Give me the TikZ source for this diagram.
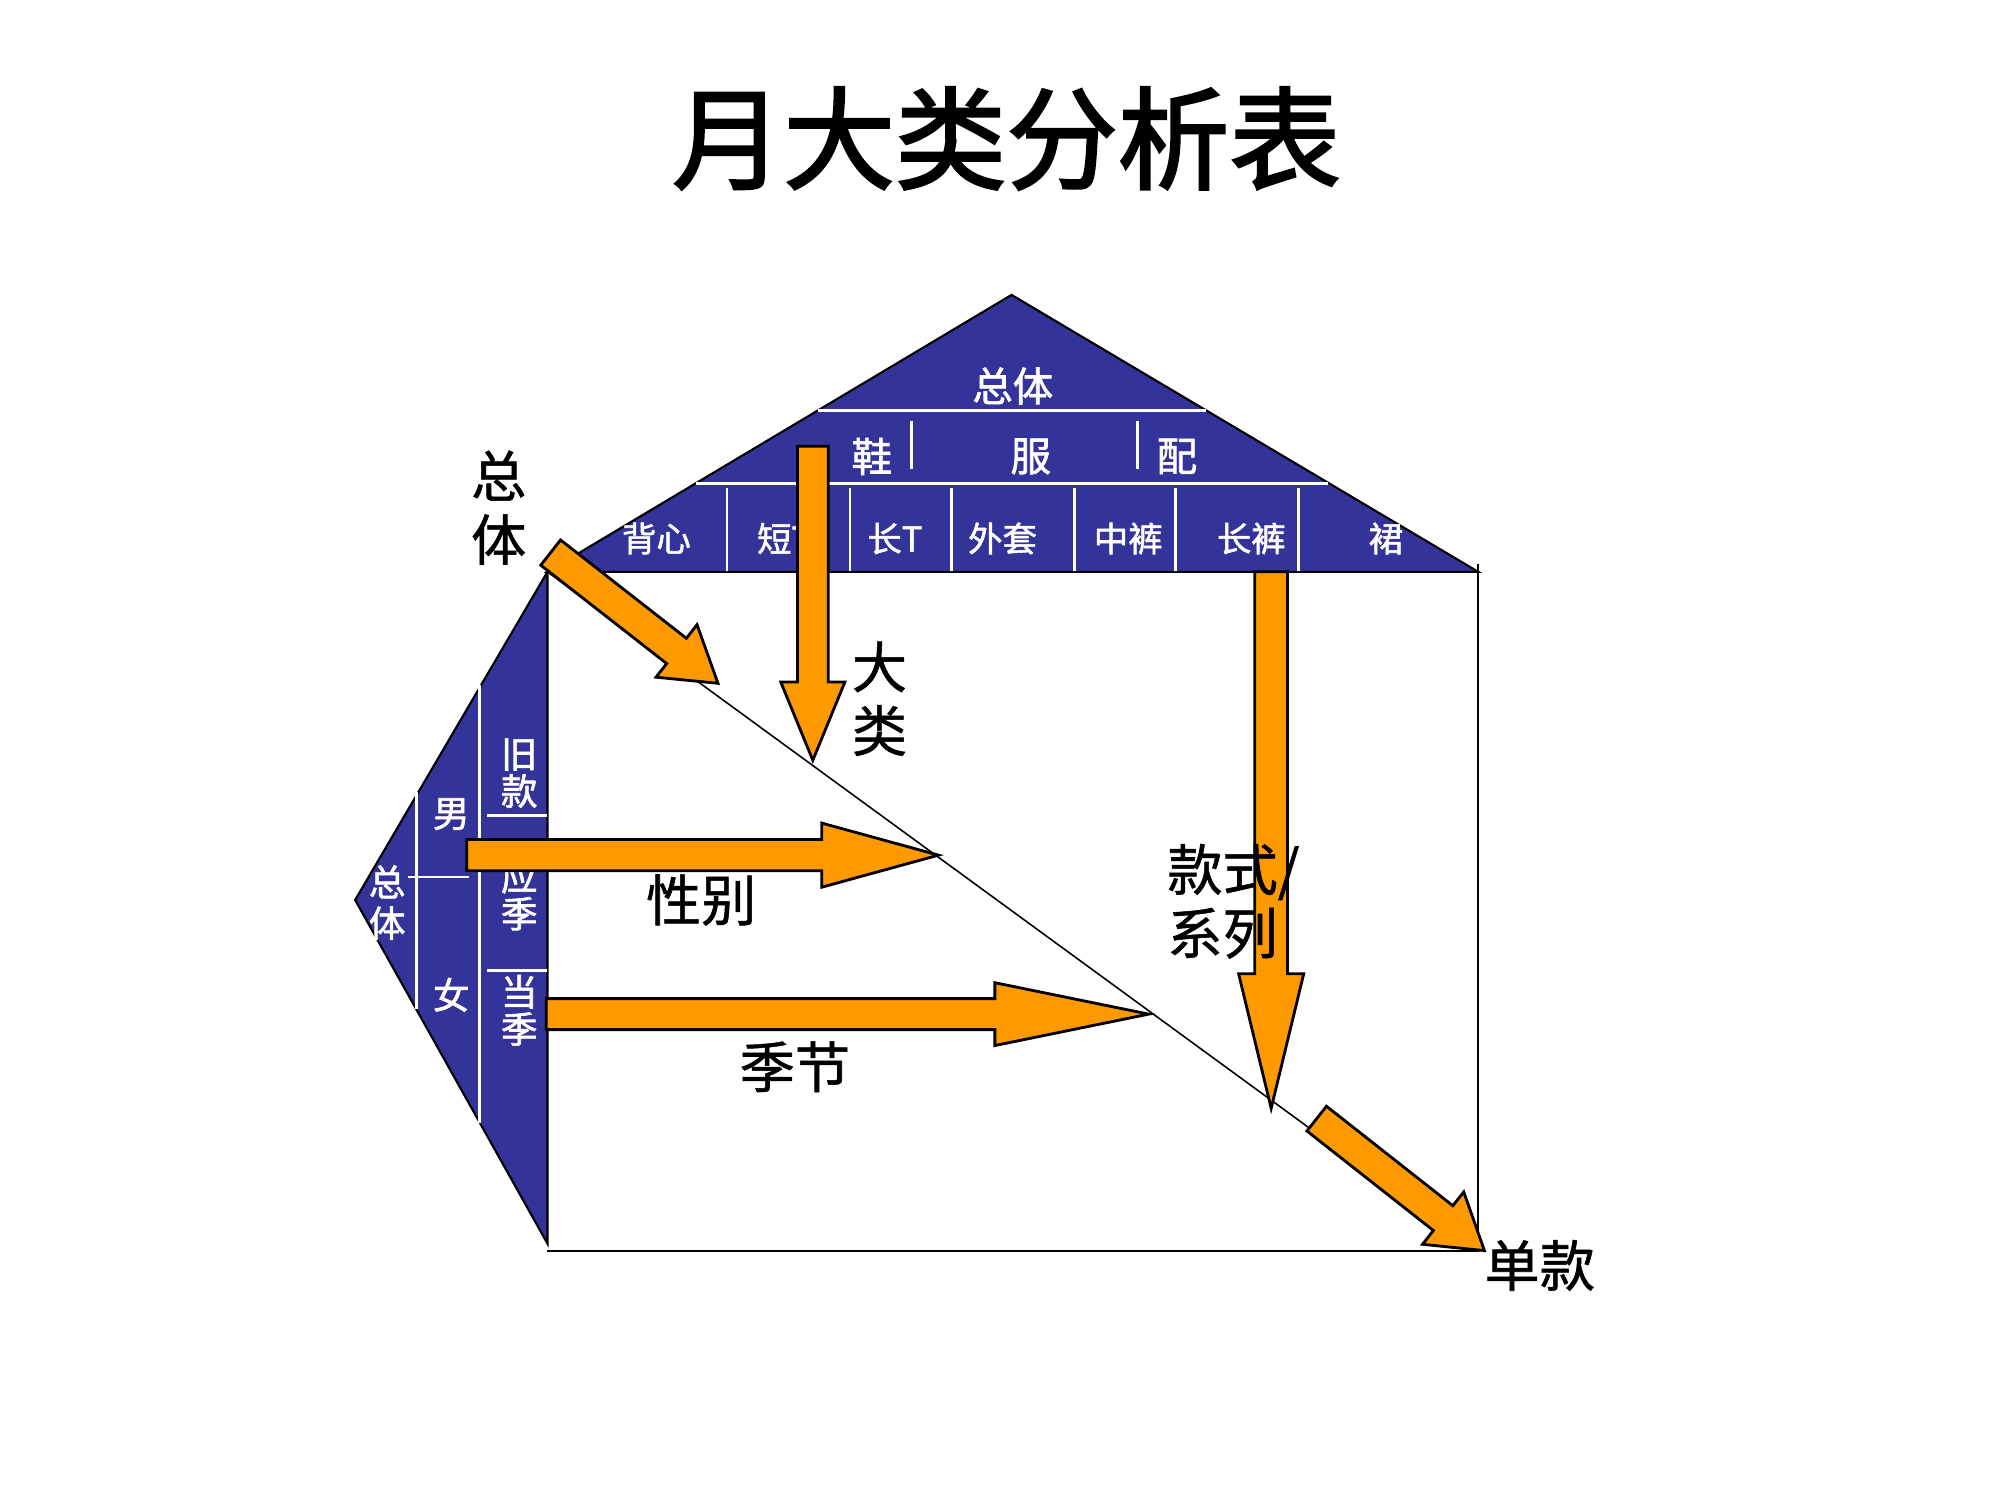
\documentclass[tikz,border=0pt]{standalone}
\usepackage{fontspec}
\setmainfont{Noto Sans CJK SC}
\newfontfamily\cjkw[FakeBold=1.6]{Noto Sans CJK SC}
\newfontfamily\cjkk[FakeBold=1.0]{Noto Sans CJK SC}
\newfontfamily\cjkt[FakeBold=2.2]{Noto Sans CJK SC}
\definecolor{navy}{RGB}{51,51,153}
\definecolor{arrorange}{RGB}{255,153,0}
\newcommand{\blockarrow}[6]{%
  \draw[barrow, shift={#1}, rotate=#2] (0,-#4) -- ({#3-#6},-#4) -- ({#3-#6},-#5) -- (#3,0)
    -- ({#3-#6},#5) -- ({#3-#6},#4) -- (0,#4) -- cycle;}
\begin{document}
\begin{tikzpicture}[x=0.01282cm, y=-0.01282cm,
  blk/.style={draw=black, line width=0.6pt},
  thin/.style={draw=black, line width=0.45pt},
  wline/.style={draw=white, line width=0.75pt},
  barrow/.style={draw=black, fill=arrorange, line width=0.8pt, line join=miter},
  wlabA/.style={text=white, inner sep=0pt, font=\cjkw\fontsize{11.5}{12}\selectfont},
  wlabB/.style={text=white, inner sep=0pt, font=\cjkw\fontsize{9.8}{11}\selectfont},
  wlabC/.style={text=white, inner sep=0pt, align=center, font=\cjkw\fontsize{10.4}{10.6}\selectfont},
  blab/.style={text=black, inner sep=0pt, align=center, font=\cjkk\fontsize{15.7}{18.1}\selectfont},
  titlestyle/.style={text=black, inner sep=0pt, font=\cjkt\fontsize{31.7}{34}\selectfont}]
\useasboundingbox (0,0) rectangle (1560,1170);

% key points
\coordinate (TL) at (427,446);
\coordinate (TR) at (1153,446);
\coordinate (BR) at (1153,976);
\coordinate (BL) at (427,976);
\coordinate (AP) at (789,230);
\coordinate (LT) at (277,702);
\coordinate (LB) at (427,970);
\coordinate (TRup) at (1153,440);

% title
\node[titlestyle] (title) at (785,108) {月大类分析表};

% box and diagonal
\draw[blk] (TRup) -- (BR) -- (BL);
\draw[thin] (TL) -- (BR);

% roof
\filldraw[fill=navy, blk] (TL) -- (AP) -- (TR) -- cycle;
\draw[wline] (638,320) -- (941,320);
\draw[wline] (543,377) -- (1036,377);
\foreach \xx in {711,887} \draw[wline] (\xx,328) -- (\xx,366);
\foreach \xx in {567,663,742,838,917,1013} \draw[wline] (\xx,381) -- (\xx,445);

\node[wlabA] (r0) at (790,301) {总体};
\node[wlabA] (r1) at (680,356) {鞋};
\node[wlabA] (r2) at (804,356) {服};
\node[wlabA] (r3) at (918,356) {配};
\node[wlabB] (c1) at (512,420) {背心};
\node[wlabB, anchor=west] (c2) at (590,420) {短T};
\node[wlabB] (c3) at (698,420) {长T};
\node[wlabB] (c4) at (782,420) {外套};
\node[wlabB] (c5) at (880,420) {中裤};
\node[wlabB] (c6) at (976,420) {长裤};
\node[wlabB] (c7) at (1081,420) {裙};

% left wedge
\filldraw[fill=navy, blk] (TL) -- (LT) -- (LB) -- cycle;
\draw[wline] (374,534) -- (374,876);
\draw[wline] (325,618) -- (325,787);
\draw[wline] (318,684) -- (366,684);
\draw[wline] (380,636) -- (427,636);
\draw[wline] (380,757) -- (427,757);

\node[wlabC, font=\cjkw\fontsize{10.4}{11.7}\selectfont] (p0) at (302,704) {总\\体};
\node[wlabC] (pm) at (352,635) {男};
\node[wlabC] (pf) at (352,776) {女};
\node[wlabC] (q1) at (405,603) {旧\\款};
\node[wlabC] (q2) at (405,698) {应\\季};
\node[wlabC] (q3) at (405,788) {当\\季};

% orange block arrows
\blockarrow{(429.5,431)}{-38}{165.6}{12.5}{26}{41}
\blockarrow{(634,348)}{-90}{245}{12}{25}{61}
\blockarrow{(364,667)}{0}{368}{12.2}{25}{91}
\blockarrow{(426,791)}{0}{470}{12.1}{24.5}{120}
\blockarrow{(991.5,446)}{-90}{418.5}{12.8}{25.4}{105}
\blockarrow{(1027,872.5)}{-38.2}{166.5}{12.3}{26}{41}

% black labels
\node[blab] (l1) at (389,396) {总\\体};
\node[blab] (l2) at (686,545) {大\\类};
\node[blab] (l3) at (547,702) {性别};
\node[blab, align=left, anchor=west] (l4) at (910,703) {款式/\\系列};
\node[blab] (l5) at (620,832) {季节};
\node[blab] (l6) at (1201,987) {单款};
\end{tikzpicture}
\end{document}
